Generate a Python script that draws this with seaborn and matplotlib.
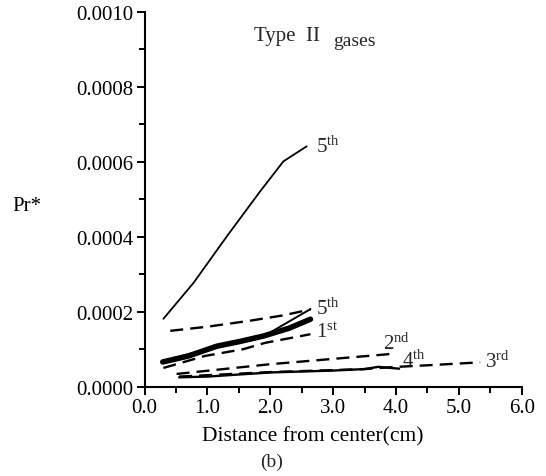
import numpy as np
import pandas as pd
import matplotlib
matplotlib.use("Agg")
import matplotlib.pyplot as plt
import seaborn as sns
from matplotlib.ticker import MultipleLocator, FormatStrFormatter

# Pr* versus distance from center, Type II gases
x_5th_solid = [0.30, 0.78, 1.31, 1.84, 2.21, 2.58]
y_5th_solid = [0.000181, 0.000277, 0.000401, 0.000521, 0.000601, 0.000641]

x_5th_dash = [0.41, 1.00, 1.68, 2.20, 2.64]
y_5th_dash = [0.000149, 0.000160, 0.000176, 0.000190, 0.000206]

x_5th_thin = [0.30, 1.15, 1.89, 2.64]
y_5th_thin = [0.000068, 0.000108, 0.000134, 0.000207]

x_1st_solid = [0.29, 0.70, 1.15, 1.50, 1.89, 2.30, 2.64]
y_1st_solid = [0.000066, 0.000082, 0.000108, 0.000120, 0.000135, 0.000156, 0.000180]

x_1st_dash = [0.30, 0.96, 1.57, 1.92, 2.64]
y_1st_dash = [0.000050, 0.000082, 0.000100, 0.000117, 0.000140]

x_2nd_dash = [0.51, 2.00, 3.90]
y_2nd_dash = [0.000034, 0.000060, 0.000087]

x_4th_solid = [0.55, 1.00, 2.00, 3.00, 3.50, 3.72, 3.85, 4.05]
y_4th_solid = [0.000025, 0.000027, 0.000038, 0.000043, 0.000047, 0.000053, 0.000051, 0.000048]

x_3rd_dash = [0.55, 2.00, 3.50, 3.92, 4.60, 5.34]
y_3rd_dash = [0.000027, 0.000039, 0.000047, 0.000052, 0.000058, 0.000065]

sns.set_style("ticks")
plt.rcParams["font.family"] = ["Liberation Serif", "DejaVu Serif"]
plt.rcParams["mathtext.fontset"] = "custom"
plt.rcParams["mathtext.rm"] = "Liberation Serif"
plt.rcParams["mathtext.it"] = "Liberation Serif:italic"
plt.rcParams["mathtext.bf"] = "Liberation Serif:bold"

fig = plt.figure(figsize=(5.46, 4.77), dpi=100)
ax = fig.add_axes([0.2647, 0.1872, 0.6907, 0.7862])

dash = (0, (5.5, 3))
series = [
    (x_5th_solid, y_5th_solid, "-", 1.3),
    (x_5th_dash, y_5th_dash, dash, 1.7),
    (x_1st_solid, y_1st_solid, "-", 4.0),
    (x_5th_thin, y_5th_thin, "-", 1.4),
    (x_1st_dash, y_1st_dash, dash, 1.7),
    (x_2nd_dash, y_2nd_dash, dash, 1.7),
    (x_4th_solid, y_4th_solid, "-", 1.7),
    (x_3rd_dash, y_3rd_dash, dash, 1.7),
]
for xs, ys, ls, lw in series:
    sns.lineplot(x=xs, y=ys, ax=ax, color="black", linestyle=ls,
                 linewidth=lw, estimator=None, sort=False)

ax.set_xlim(0, 6.0)
ax.set_ylim(0, 0.0010)
ax.xaxis.set_major_locator(MultipleLocator(1.0))
ax.xaxis.set_minor_locator(MultipleLocator(0.5))
ax.yaxis.set_major_locator(MultipleLocator(0.0002))
ax.yaxis.set_minor_locator(MultipleLocator(0.0001))
ax.xaxis.set_major_formatter(FormatStrFormatter("%.1f"))
ax.yaxis.set_major_formatter(FormatStrFormatter("%.4f"))

for s in ["top", "right"]:
    ax.spines[s].set_visible(False)
for s in ["left", "bottom"]:
    ax.spines[s].set_linewidth(1.5)
    ax.spines[s].set_color("black")

ax.tick_params(axis="both", which="major", direction="out", length=6.0,
               width=1.4, color="black", labelsize=15, labelcolor="black", pad=2)
ax.tick_params(axis="both", which="minor", direction="out", length=4.5,
               width=1.4, color="black")

ax.set_xlabel("Distance from center(cm)", fontsize=15.5, color="black")
ax.xaxis.set_label_coords(0.4456, -0.131)
ax.xaxis.label.set_va("center")
ax.set_ylabel("Pr*", fontsize=15, rotation=0, color="black")
ax.yaxis.set_label_coords(-0.312, 0.482)
ax.yaxis.label.set_va("center")
ax.yaxis.label.set_ha("center")

# curve labels
ax.text(2.73, 0.000641, r"5$^{\mathrm{th}}$", fontsize=15, va="center", ha="left")
ax.text(2.73, 0.000210, r"5$^{\mathrm{th}}$", fontsize=15, va="center", ha="left")
ax.text(2.73, 0.000145, r"1$^{\mathrm{st}}$", fontsize=15, va="center", ha="left")
ax.text(3.80, 0.000115, r"2$^{\mathrm{nd}}$", fontsize=15, va="center", ha="left")
ax.text(4.10, 0.000070, r"4$^{\mathrm{th}}$", fontsize=15, va="center", ha="left")
ax.text(5.42, 0.000068, r"3$^{\mathrm{rd}}$", fontsize=15, va="center", ha="left")

# panel title
fig.text(254 / 546, 1 - 36 / 477, "Type  II", fontsize=15, ha="left", va="center")
fig.text(333 / 546, 1 - 41 / 477, "gases", fontsize=14, ha="left", va="center")

fig.text(272 / 546, 1 - 462 / 477, "(b)", fontsize=14, ha="center", va="center")

fig.savefig("out.png", dpi=100)
